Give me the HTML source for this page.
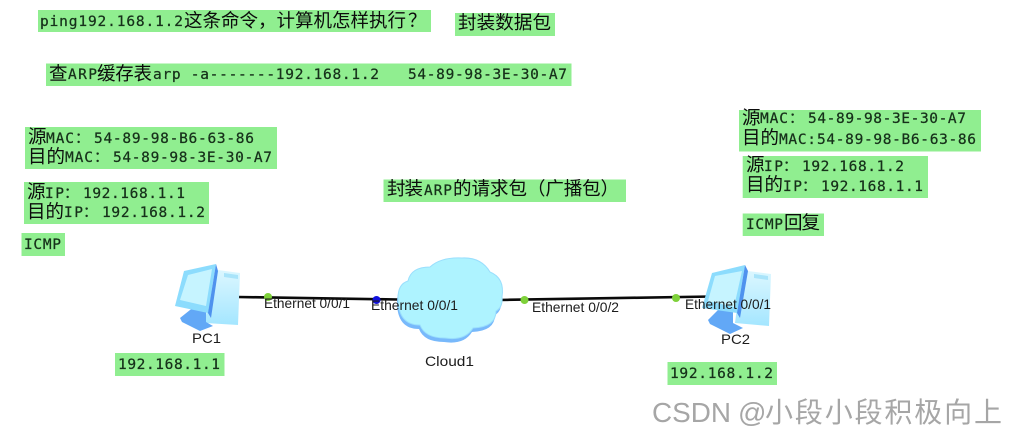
<!DOCTYPE html>
<html><head><meta charset="utf-8"><style>
html,body{margin:0;padding:0;background:#fff;width:1017px;height:437px;overflow:hidden}
svg{display:block;filter:blur(0.35px)}
.m{font-family:"DejaVu Sans Mono","Liberation Mono",monospace;font-size:14.5px;fill:#16301a;stroke:#16301a;stroke-width:.25px}
.c{font-family:"Liberation Sans","Noto Sans CJK SC",sans-serif;font-size:18.5px;fill:#0c0c0c}
.e{font-family:"Liberation Sans",sans-serif;font-size:14px;fill:#1c1c1c}
.w{font-family:"Liberation Sans","Noto Sans CJK SC",sans-serif;font-size:28px;fill:#a6a6a6}
</style></head><body>
<svg xmlns="http://www.w3.org/2000/svg" width="1017" height="437" viewBox="0 0 1017 437">
<defs>
<linearGradient id="t" x1="0" y1="0" x2="0" y2="1"><stop offset="0" stop-color="#dcf7ff"/><stop offset="1" stop-color="#a4e6ff"/></linearGradient>
</defs>
<g fill="#90ee90">
<rect x="38" y="10" width="393" height="22"/>
<rect x="455" y="13" width="100" height="23"/>
<rect x="46" y="63.5" width="525.5" height="22.5"/>
<rect x="25" y="127" width="252" height="42"/>
<rect x="24" y="182" width="185" height="42"/>
<rect x="21.5" y="233" width="43.5" height="23"/>
<rect x="383.5" y="179.5" width="242.5" height="22.5"/>
<rect x="739" y="110" width="242" height="41.5"/>
<rect x="742.7" y="156" width="185.3" height="42"/>
<rect x="742.7" y="213.5" width="81.3" height="22.5"/>
<rect x="115" y="353" width="109.5" height="23"/>
<rect x="667.5" y="362" width="109.5" height="23"/>
</g>

<!-- links -->
<path d="M238 297 L398 299.5" stroke="#0a0a0a" stroke-width="2.6" fill="none"/>
<path d="M498 300 L712 296.5" stroke="#0a0a0a" stroke-width="2.6" fill="none"/>

<!-- cloud -->
<path d="M398,298 Q398,284 408,281 Q411,267 430,267 Q441,257 462,258 Q481,257 490,272 Q505,278 502,297 Q503,307 496,311 Q496,327 473,328 Q465,341 445,338 Q425,338 420,325 Q398,325 398,298Z" fill="#78b9fb" transform="translate(-1,4)"/>
<path d="M398,298 Q398,284 408,281 Q411,267 430,267 Q441,257 462,258 Q481,257 490,272 Q505,278 502,297 Q503,307 496,311 Q496,327 473,328 Q465,341 445,338 Q425,338 420,325 Q398,325 398,298Z" fill="#aef3ff" stroke="#9adffd" stroke-width="1"/>

<!-- PC1 -->
<g>
<polygon points="218,270 240,273 238,325 205,323 208,300" fill="url(#t)"/>
<polygon points="224,273 238,275 238,279 224,277" fill="#a9e4fa"/>
<polygon points="180,318 195,306 206,306 206,322 213,326 200,331 182,322" fill="#62a8f6"/>
<polygon points="184,271 216,264 208,313 175,306" fill="#8cdcfd"/>
<polygon points="188,275 212,269 206,306 180,300" fill="#c6f4ff"/>
<polygon points="216,264 218,271 211,318 208,313" fill="#4f92ee"/>
</g>
<!-- PC2 -->
<g>
<polygon points="748,271 771,274 769,326 735,323 738,300" fill="url(#t)"/>
<polygon points="754,274 768,276 768,280 754,278" fill="#a9e4fa"/>
<polygon points="708,320 722,306 733,306 733,323 743,328 730,334 710,324" fill="#62a8f6"/>
<polygon points="712,273 745,265 737,313 702,308" fill="#8cdcfd"/>
<polygon points="715,276 742,271 734,307 708,301" fill="#c6f4ff"/>
<polygon points="745,265 748,271 740,318 737,313" fill="#4f92ee"/>
</g>

<!-- dots -->
<circle cx="268" cy="297" r="4" fill="#7ed13a"/>
<circle cx="376.5" cy="300" r="4" fill="#1111dd"/>
<circle cx="524.5" cy="300" r="4" fill="#7ed13a"/>
<circle cx="676" cy="298" r="4" fill="#7ed13a"/>

<!-- labels -->
<text class="e" x="264" y="308" textLength="86" lengthAdjust="spacingAndGlyphs">Ethernet 0/0/1</text>
<text class="e" x="371" y="310" textLength="87" lengthAdjust="spacingAndGlyphs">Ethernet 0/0/1</text>
<text class="e" x="532" y="312" textLength="87" lengthAdjust="spacingAndGlyphs">Ethernet 0/0/2</text>
<text class="e" x="685" y="309" textLength="86" lengthAdjust="spacingAndGlyphs">Ethernet 0/0/1</text>
<text class="e" x="192" y="343" textLength="29" lengthAdjust="spacingAndGlyphs">PC1</text>
<text class="e" x="425" y="366" textLength="49" lengthAdjust="spacingAndGlyphs">Cloud1</text>
<text class="e" x="721" y="344" textLength="29" lengthAdjust="spacingAndGlyphs">PC2</text>

<!-- ping -->
<text class="m" x="40" y="26" textLength="143">ping192.168.1.2</text>
<text class="c" x="184" y="27" textLength="222">这条命令，计算机怎样执行</text>
<text class="c" x="408" y="27">？</text>
<text class="c" x="458" y="29" textLength="93">封装数据包</text>

<!-- arp -->
<text class="c" x="49" y="80">查</text>
<text class="m" x="68" y="79" textLength="29">ARP</text>
<text class="c" x="97" y="80" textLength="55">缓存表</text>
<text class="m" x="153" y="79" textLength="226">arp -a-------192.168.1.2</text>
<text class="m" x="408" y="79" textLength="159">54-89-98-3E-30-A7</text>

<!-- left block -->
<text class="c" x="28" y="143">源</text>
<text class="m" x="46" y="143" textLength="28">MAC</text>
<text class="m" x="75" y="143">：</text>
<text class="m" x="94" y="143" textLength="160">54-89-98-B6-63-86</text>
<text class="c" x="28" y="163" textLength="37">目的</text>
<text class="m" x="65" y="162" textLength="28">MAC</text>
<text class="m" x="94" y="162">：</text>
<text class="m" x="113" y="162" textLength="159">54-89-98-3E-30-A7</text>

<text class="c" x="27" y="198">源</text>
<text class="m" x="45" y="198" textLength="19">IP</text>
<text class="m" x="64" y="198">：</text>
<text class="m" x="83" y="198" textLength="102">192.168.1.1</text>
<text class="c" x="27" y="218" textLength="37">目的</text>
<text class="m" x="64" y="217" textLength="19">IP</text>
<text class="m" x="83" y="217">：</text>
<text class="m" x="102" y="217" textLength="103">192.168.1.2</text>

<text class="m" x="24" y="249" textLength="37">ICMP</text>

<!-- center -->
<text class="c" x="387" y="195" textLength="36">封装</text>
<text class="m" x="424" y="195" textLength="28">ARP</text>
<text class="c" x="453" y="195" textLength="74">的请求包</text>
<text class="c" x="527" y="195" textLength="92">（广播包）</text>

<!-- right block -->
<text class="c" x="742" y="124">源</text>
<text class="m" x="760" y="123" textLength="28">MAC</text>
<text class="m" x="789" y="123">：</text>
<text class="m" x="808" y="123" textLength="158">54-89-98-3E-30-A7</text>
<text class="c" x="742" y="144" textLength="37">目的</text>
<text class="m" x="779" y="144" textLength="37">MAC:</text>
<text class="m" x="817" y="144" textLength="159">54-89-98-B6-63-86</text>

<text class="c" x="746" y="171">源</text>
<text class="m" x="764" y="171" textLength="19">IP</text>
<text class="m" x="783" y="171">：</text>
<text class="m" x="802" y="171" textLength="102">192.168.1.2</text>
<text class="c" x="746" y="191" textLength="37">目的</text>
<text class="m" x="783" y="191" textLength="19">IP</text>
<text class="m" x="802" y="191">：</text>
<text class="m" x="821" y="191" textLength="102">192.168.1.1</text>

<text class="m" x="746" y="229" textLength="37">ICMP</text>
<text class="c" x="784" y="229" textLength="36">回复</text>

<text class="m" x="118" y="369" textLength="102">192.168.1.1</text>
<text class="m" x="670" y="378" textLength="103">192.168.1.2</text>

<text class="w" x="652" y="422" textLength="79" lengthAdjust="spacingAndGlyphs">CSDN</text>
<text class="w" x="738" y="422">@</text>
<text class="w" x="765" y="422" textLength="237">小段小段积极向上</text>
</svg>
</body></html>
